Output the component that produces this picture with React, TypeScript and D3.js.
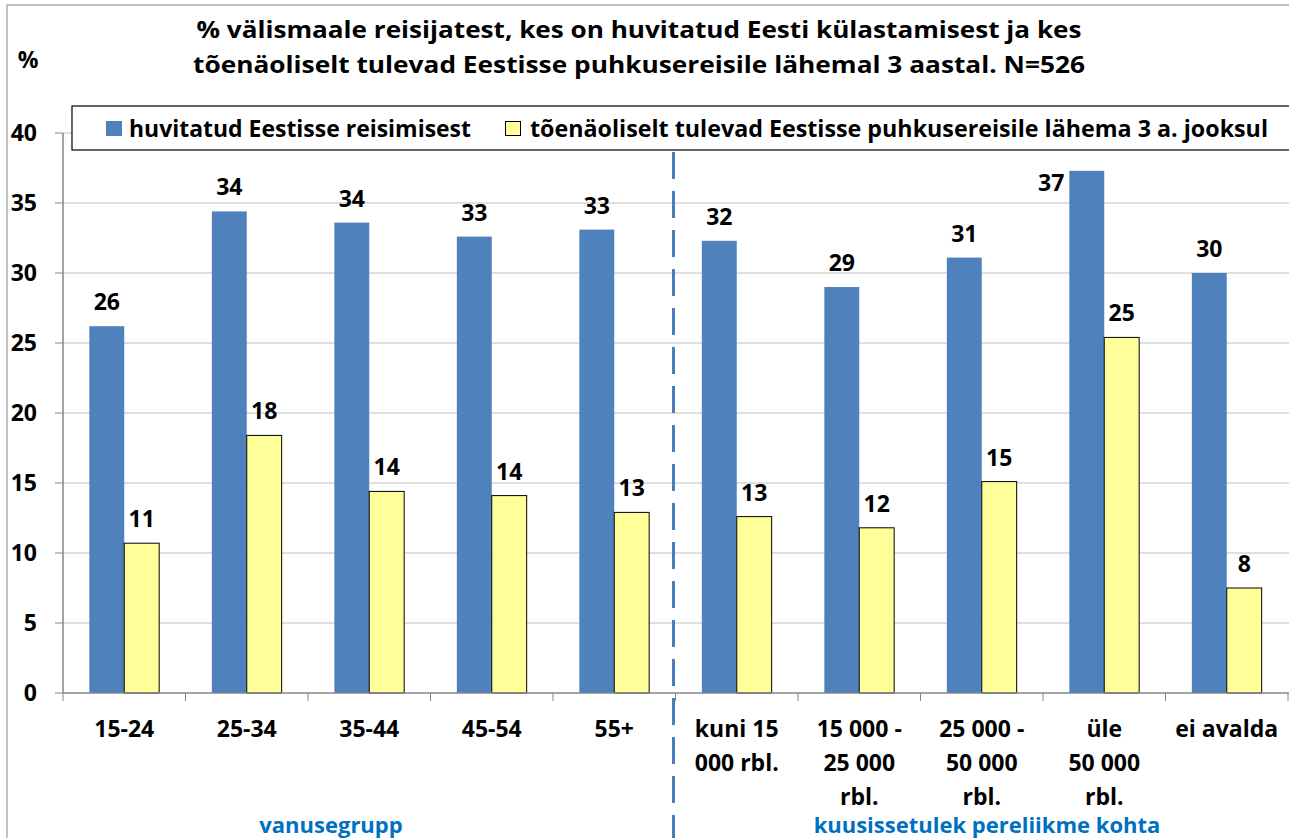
import React from 'react';
import * as d3 from 'd3';

const categories: string[][] = [
  ['15-24'], ['25-34'], ['35-44'], ['45-54'], ['55+'],
  ['kuni 15', '000 rbl.'], ['15 000 -', '25 000', 'rbl.'], ['25 000 -', '50 000', 'rbl.'], ['üle', '50 000', 'rbl.'], ['ei avalda'],
];
const interested = [26.2, 34.4, 33.6, 32.6, 33.1, 32.3, 29.0, 31.1, 37.3, 30.0];
const likely = [10.7, 18.4, 14.4, 14.1, 12.9, 12.6, 11.8, 15.1, 25.4, 7.5];
const seriesNames = ['huvitatud Eestisse reisimisest', 'tõenäoliselt tulevad Eestisse puhkusereisile lähema 3 a. jooksul'];
const yTicks = [0, 5, 10, 15, 20, 25, 30, 35, 40];
const titleLines = [
  '% välismaale reisijatest, kes on huvitatud Eesti külastamisest ja kes',
  'tõenäoliselt tulevad Eestisse puhkusereisile lähemal 3 aastal. N=526',
];
const groupLabels = ['vanusegrupp', 'kuusissetulek pereliikme kohta'];

const W = 1289, H = 838;
const FONT = '"Open Sans", Lato, sans-serif';
const BLUE = '#4f81bd';
const YELLOW = '#ffff99';
const FS = 23;

export default function App() {
  const left = 63, right = 1288, top = 133, bottom = 693;
  const legendBottom = 150;
  const x = d3.scaleBand<number>().domain(d3.range(categories.length)).range([left, right]).paddingInner(0.43).paddingOuter(0.215);
  const band = d3.scaleBand<number>().domain(d3.range(categories.length)).range([left, right]);
  const y = d3.scaleLinear().domain([0, 40]).range([bottom, top]);
  const bw = x.bandwidth() / 2;
  const sepX = band(5)! - 2;

  const blueLabel = (i: number) => {
    const yt = y(interested[i]);
    if (yt - 16 - 18 < legendBottom) {
      return { x: x(i)! - 5, y: yt + 20, anchor: 'end' as const };
    }
    return { x: x(i)! + bw / 2, y: yt - 16, anchor: 'middle' as const };
  };

  return (
    <svg width={W} height={H} style={{ position: 'absolute', left: 0, top: 0, background: '#fff' }} fontFamily={FONT}>
      <rect x={7} y={5} width={W} height={H} fill="#fff" stroke="#b0b0b0" strokeWidth={1.5} />
      {titleLines.map((t, i) => (
        <text key={i} x={639} y={38 + i * 35} textAnchor="middle" fontSize={23} fontWeight="bold" fill="#000"
          textLength={i === 0 ? 885 : 892} lengthAdjust="spacingAndGlyphs">{t}</text>
      ))}
      <text x={28} y={68} textAnchor="middle" fontSize={FS} fontWeight="bold">%</text>

      {yTicks.map(t => (
        <g key={t}>
          {t > 0 && <line x1={left} x2={right + 2} y1={y(t)} y2={y(t)} stroke="#c0c0c0" strokeWidth={1} />}
          <line x1={left - 8} x2={left} y1={y(t)} y2={y(t)} stroke="#868686" strokeWidth={1} />
          <text x={37} y={y(t) + 8} textAnchor="end" fontSize={FS} fontWeight="bold">{t}</text>
        </g>
      ))}

      {categories.map((c, i) => {
        const bl = blueLabel(i);
        return (
          <g key={i}>
            <rect x={x(i)!} y={y(interested[i])} width={bw} height={bottom - y(interested[i])} fill={BLUE} />
            <rect x={x(i)! + bw} y={y(likely[i])} width={bw} height={bottom - y(likely[i])} fill={YELLOW} stroke="#000" strokeWidth={1} />
            <text x={bl.x} y={bl.y} textAnchor={bl.anchor} fontSize={FS} fontWeight="bold">{Math.round(interested[i])}</text>
            <text x={x(i)! + bw * 1.5} y={y(likely[i]) - 16} textAnchor="middle" fontSize={FS} fontWeight="bold">{Math.round(likely[i])}</text>
            {c.map((line, j) => (
              <text key={j} x={band(i)! + band.bandwidth() / 2} y={737 + j * 34} textAnchor="middle" fontSize={FS} fontWeight="bold">{line}</text>
            ))}
          </g>
        );
      })}

      <line x1={left} x2={left} y1={top} y2={bottom} stroke="#868686" strokeWidth={1.5} />
      <line x1={left} x2={right + 2} y1={bottom} y2={bottom} stroke="#868686" strokeWidth={1.5} />
      {d3.range(categories.length + 1).map(i => (
        <line key={i} x1={left + i * band.bandwidth()} x2={left + i * band.bandwidth()} y1={bottom} y2={bottom + 8} stroke="#868686" strokeWidth={1} />
      ))}

      <line x1={sepX} x2={sepX} y1={152} y2={H} stroke="#4a7ebb" strokeWidth={3} strokeDasharray="27 12" />

      <g>
        <rect x={72} y={106} width={1230} height={44} fill="#fff" stroke="#000" strokeWidth={1.2} />
        <rect x={106} y={121} width={16} height={15} fill={BLUE} />
        <text x={129} y={137} fontSize={FS} fontWeight="bold" textLength={342} lengthAdjust="spacingAndGlyphs">{seriesNames[0]}</text>
        <rect x={505.5} y={121.5} width={15} height={14} fill={YELLOW} stroke="#000" strokeWidth={1} />
        <text x={530} y={137} fontSize={FS} fontWeight="bold" textLength={738} lengthAdjust="spacingAndGlyphs">{seriesNames[1]}</text>
      </g>

      <text x={331} y={833} textAnchor="middle" fontSize={22} fontWeight="bold" fill="#0070c0">{groupLabels[0]}</text>
      <text x={987} y={833} textAnchor="middle" fontSize={22} fontWeight="bold" fill="#0070c0">{groupLabels[1]}</text>
    </svg>
  );
}
